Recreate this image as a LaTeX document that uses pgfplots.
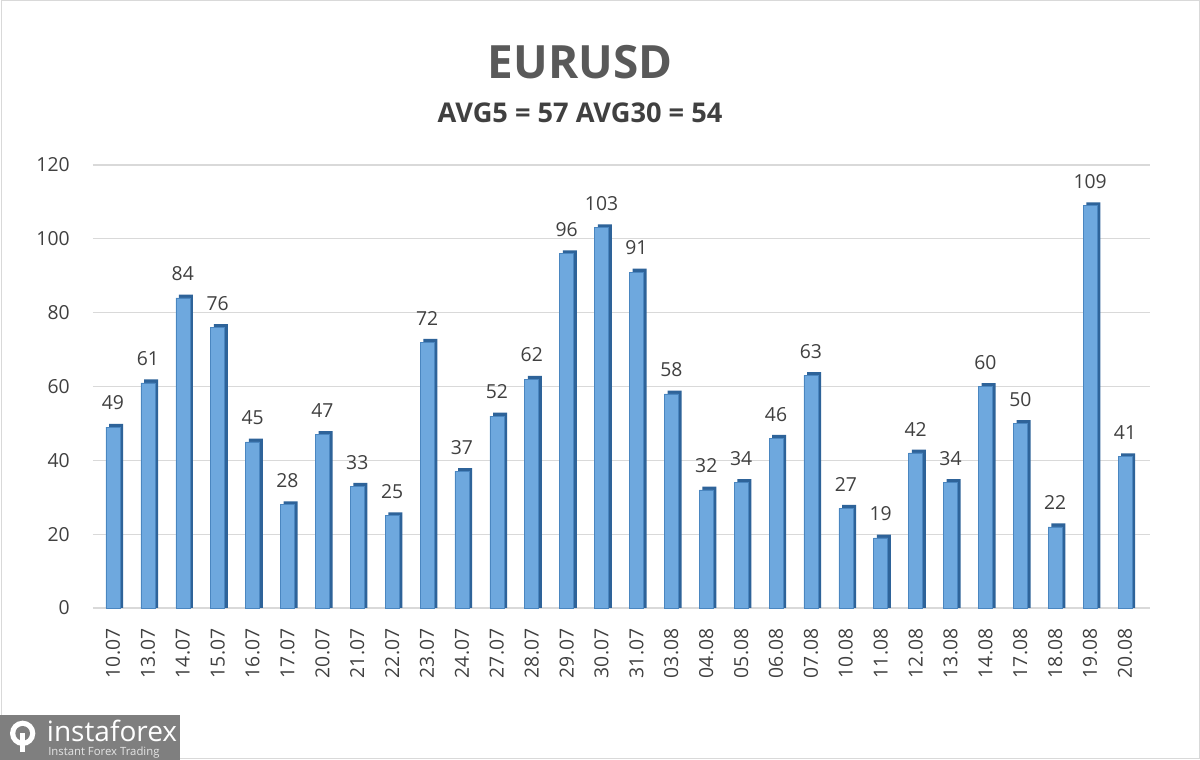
\documentclass[border=0pt]{standalone}
\usepackage{fontspec}
\setmainfont{Open Sans}
\usepackage{pgfplots}
\pgfplotsset{compat=1.18}
\usepackage{pgfplotstable}
\definecolor{barM}{HTML}{6EA8DE}
\definecolor{barE}{HTML}{4A86C0}
\definecolor{barD}{HTML}{2E6399}
\definecolor{gridc}{HTML}{D9D9D9}
\definecolor{txt}{HTML}{404040}
\definecolor{ttl}{HTML}{595959}
\definecolor{logo}{HTML}{7F7F7F}
\pgfplotstableread{
idx v
0 49
1 61
2 84
3 76
4 45
5 28
6 47
7 33
8 25
9 72
10 37
11 52
12 62
13 96
14 103
15 91
16 58
17 32
18 34
19 46
20 63
21 27
22 19
23 42
24 34
25 60
26 50
27 22
28 109
29 41
}\data
\begin{document}
\begin{tikzpicture}[x=1pt,y=1pt]
\path[use as bounding box] (0,0) rectangle (900,570);
\fill[white] (0,0) rectangle (900,570);
\draw[gridc, line width=0.75pt] (0.75,0.75) rectangle (899.25,569.25);
\begin{axis}[
  at={(69.75pt,114pt)}, anchor=south west, scale only axis,
  width=792.75pt, height=332.25pt,
  xmin=-0.573, xmax=29.716, ymin=0, ymax=120,
  ytick={0,20,...,120},
  xtick={0,...,29},
  xticklabels={10.07,13.07,14.07,15.07,16.07,17.07,20.07,21.07,22.07,23.07,24.07,27.07,28.07,29.07,30.07,31.07,03.08,04.08,05.08,06.08,07.08,10.08,11.08,12.08,13.08,14.08,17.08,18.08,19.08,20.08},
  ymajorgrids, grid style={color=gridc, line width=0.9pt},
  axis line style={draw=none},
  major tick length=0pt,
  clip=false,
  /pgf/number format/assume math mode=true,
  yticklabel style={anchor=east, xshift=-14pt, font=\fontsize{14.5}{16}\selectfont, color=txt},
  xticklabel style={rotate=90, anchor=east, xshift=-12pt, font=\fontsize{14.5}{16}\selectfont, color=txt},
]
\addplot[ybar, bar width=10.5pt, bar shift=2.4pt, fill=barD, draw=none] table[x=idx, y expr=\thisrow{v}+0.9] {\data};
\addplot[ybar, bar width=10.5pt, bar shift=0pt, fill=barM, draw=barE, line width=0.4pt,
  nodes near coords, every node near coord/.append style={anchor=south, inner sep=0pt, yshift=12.5pt, font=\fontsize{14.5}{16}\selectfont, color=txt}] table[x=idx, y=v] {\data};
\end{axis}
\node[font=\bfseries\fontsize{34.4}{40}\selectfont, color=ttl] at (435,523.5) {EURUSD};
\node[font=\bfseries\fontsize{20.4}{24}\selectfont, color=txt] at (435,485.25) {AVG5 = 57 AVG30 = 54};
\fill[logo] (0,0) rectangle (135,33.75);
\fill[white] (17,20) circle (9.5);
\fill[logo] (17,20) circle (5.5);
\fill[white] (15.3,6) rectangle (18.7,20);
\node[anchor=base west, inner sep=0pt, font=\fontsize{21}{24}\selectfont, color=white] at (35,14) {instaforex};
\node[anchor=base west, inner sep=0pt, font=\fontsize{8.5}{10}\selectfont, color=white!90!black] at (36,3.5) {Instant Forex Trading};
\end{tikzpicture}
\end{document}
